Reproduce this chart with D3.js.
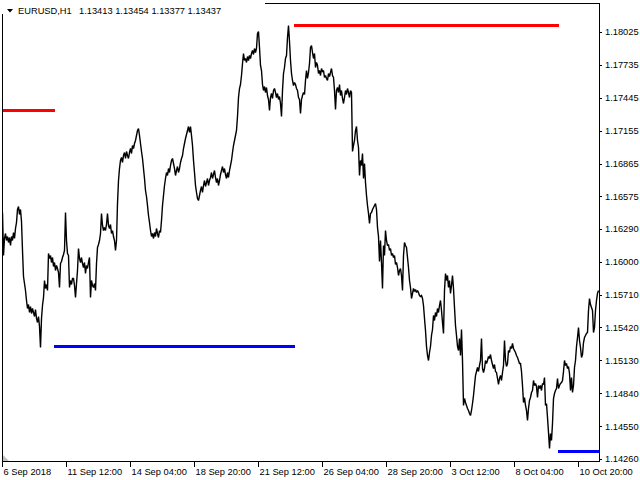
<!DOCTYPE html>
<html><head><meta charset="utf-8">
<script src="https://cdn.jsdelivr.net/npm/d3@7"></script>
<style>html,body{margin:0;padding:0;background:#fff;} svg{display:block;}</style>
</head><body><svg id="c" width="640" height="480"></svg>
<script>
const symbolTitle = "EURUSD,H1";
const ohlcText = "1.13413 1.13454 1.13377 1.13437";
const closes = [
1.1644,1.1606,1.1621,1.1625,1.1619,1.1623,1.1617,1.1622,1.1615,1.1623,
1.1619,1.1626,1.1621,1.1630,1.1635,1.1646,1.1649,1.1642,1.1646,1.1636,
1.1610,1.1587,1.1581,1.1575,1.1566,1.1559,1.1563,1.1556,1.1561,1.1555,
1.1559,1.1556,1.1552,1.1558,1.1550,1.1547,1.1552,1.1543,1.1525,1.1550,
1.1562,1.1569,1.1584,1.1577,1.1580,1.1575,1.1608,1.1603,1.1606,1.1600,
1.1604,1.1596,1.1600,1.1593,1.1597,1.1594,1.1591,1.1578,1.1599,1.1601,
1.1604,1.1607,1.1610,1.1644,1.1619,1.1608,1.1606,1.1578,1.1584,1.1580,
1.1586,1.1586,1.1579,1.1569,1.1581,1.1593,1.1612,1.1603,1.1600,1.1604,
1.1599,1.1595,1.1600,1.1590,1.1597,1.1594,1.1600,1.1604,1.1569,1.1584,
1.1579,1.1578,1.1581,1.1575,1.1599,1.1613,1.1616,1.1619,1.1625,1.1643,
1.1632,1.1628,1.1631,1.1628,1.1633,1.1643,1.1632,1.1630,1.1633,1.1625,
1.1628,1.1623,1.1619,1.1610,1.1619,1.1652,1.1672,1.1683,1.1690,1.1692,
1.1688,1.1694,1.1697,1.1691,1.1698,1.1694,1.1691,1.1697,1.1700,1.1696,
1.1703,1.1700,1.1705,1.1707,1.1712,1.1716,1.1718,1.1712,1.1705,1.1698,
1.1691,1.1683,1.1674,1.1663,1.1658,1.1650,1.1641,1.1635,1.1628,1.1623,
1.1625,1.1621,1.1626,1.1623,1.1630,1.1625,1.1622,1.1628,1.1626,1.1637,
1.1650,1.1659,1.1668,1.1674,1.1679,1.1676,1.1683,1.1679,1.1685,1.1690,
1.1691,1.1687,1.1683,1.1676,1.1681,1.1684,1.1679,1.1683,1.1688,1.1691,
1.1694,1.1700,1.1705,1.1709,1.1713,1.1716,1.1720,1.1714,1.1720,1.1712,
1.1703,1.1690,1.1679,1.1668,1.1661,1.1656,1.1654,1.1659,1.1663,1.1667,
1.1661,1.1668,1.1672,1.1667,1.1670,1.1674,1.1668,1.1672,1.1675,1.1679,
1.1674,1.1677,1.1681,1.1675,1.1670,1.1674,1.1668,1.1672,1.1677,1.1681,
1.1684,1.1679,1.1683,1.1677,1.1674,1.1679,1.1675,1.1681,1.1685,1.1690,
1.1697,1.1703,1.1707,1.1712,1.1716,1.1728,1.1745,1.1753,1.1757,1.1765,
1.1775,1.1784,1.1778,1.1780,1.1776,1.1781,1.1778,1.1782,1.1780,1.1784,
1.1787,1.1783,1.1788,1.1785,1.1788,1.1802,1.1803,1.1789,1.1773,1.1769,
1.1757,1.1751,1.1755,1.1750,1.1754,1.1747,1.1743,1.1734,1.1745,1.1749,
1.1744,1.1751,1.1753,1.1750,1.1745,1.1749,1.1743,1.1746,1.1740,1.1728,
1.1751,1.1766,1.1772,1.1780,1.1782,1.1798,1.1809,1.1795,1.1778,1.1766,
1.1760,1.1756,1.1758,1.1757,1.1753,1.1751,1.1745,1.1743,1.1731,1.1743,
1.1747,1.1750,1.1748,1.1760,1.1769,1.1762,1.1767,1.1775,1.1789,1.1791,
1.1785,1.1780,1.1784,1.1772,1.1776,1.1773,1.1766,1.1769,1.1765,1.1771,
1.1768,1.1769,1.1763,1.1765,1.1762,1.1760,1.1766,1.1764,1.1767,1.1771,
1.1765,1.1763,1.1751,1.1735,1.1751,1.1754,1.1750,1.1757,1.1747,1.1751,
1.1744,1.1740,1.1745,1.1751,1.1748,1.1753,1.1750,1.1745,1.1751,1.1750,
1.1698,1.1703,1.1707,1.1716,1.1720,1.1707,1.1701,1.1676,1.1690,1.1685,
1.1696,1.1674,1.1687,1.1670,1.1659,1.1650,1.1643,1.1634,1.1643,1.1644,
1.1646,1.1648,1.1650,1.1652,1.1646,1.1631,1.1623,1.1601,1.1619,1.1600,
1.1577,1.1615,1.1606,1.1628,1.1619,1.1615,1.1616,1.1610,1.1612,1.1606,
1.1608,1.1604,1.1606,1.1598,1.1600,1.1595,1.1588,1.1593,1.1594,1.1588,
1.1575,1.1606,1.1617,1.1615,1.1613,1.1604,1.1595,1.1584,1.1578,1.1568,
1.1572,1.1577,1.1574,1.1576,1.1573,1.1575,1.1573,1.1571,1.1570,1.1571,
1.1568,1.1562,1.1550,1.1540,1.1526,1.1518,1.1513,1.1520,1.1526,1.1535,
1.1541,1.1553,1.1549,1.1556,1.1552,1.1559,1.1556,1.1562,1.1566,1.1557,
1.1547,1.1537,1.1575,1.1590,1.1584,1.1588,1.1578,1.1584,1.1572,1.1579,
1.1588,1.1577,1.1560,1.1544,1.1535,1.1526,1.1522,1.1533,1.1518,1.1541,
1.1513,1.1474,1.1480,1.1476,1.1474,1.1471,1.1469,1.1467,1.1465,1.1469,
1.1475,1.1482,1.1491,1.1500,1.1504,1.1507,1.1504,1.1509,1.1513,1.1533,
1.1506,1.1503,1.1506,1.1513,1.1511,1.1513,1.1517,1.1515,1.1519,1.1513,
1.1510,1.1506,1.1510,1.1504,1.1503,1.1497,1.1492,1.1497,1.1500,1.1496,
1.1503,1.1509,1.1531,1.1513,1.1508,1.1511,1.1522,1.1520,1.1526,1.1524,
1.1528,1.1524,1.1522,1.1520,1.1518,1.1516,1.1513,1.1511,1.1511,1.1504,
1.1491,1.1476,1.1481,1.1474,1.1469,1.1460,1.1471,1.1478,1.1481,1.1485,
1.1487,1.1496,1.1491,1.1493,1.1490,1.1481,1.1491,1.1489,1.1491,1.1487,
1.1493,1.1492,1.1498,1.1474,1.1475,1.1463,1.1450,1.1436,1.1449,1.1443,
1.1458,1.1480,1.1484,1.1487,1.1489,1.1497,1.1489,1.1491,1.1493,1.1494,
1.1496,1.1504,1.1513,1.1509,1.1511,1.1506,1.1508,1.1502,1.1487,1.1498,
1.1485,1.1491,1.1507,1.1513,1.1526,1.1534,1.1542,1.1531,1.1525,1.1516,
1.1519,1.1529,1.1534,1.1535,1.1537,1.1538,1.1557,1.1568,1.1563,1.1560,
1.1557,1.1538,1.1542,1.1557,1.1566,1.1572,1.1575
];
const priceTicks = [1.18025,1.17735,1.17445,1.17155,1.16865,1.16575,1.16290,1.16000,1.15710,1.15420,1.15130,1.14840,1.14550,1.14260];
const timeLabels = ["6 Sep 2018","11 Sep 12:00","14 Sep 04:00","18 Sep 20:00","21 Sep 12:00","26 Sep 04:00","28 Sep 20:00","3 Oct 12:00","8 Oct 04:00","10 Oct 20:00"];
const timeTickEvery = 64;
const levelPrices = [1.17337, 1.18086, 1.15253, 1.14334];
const levelFrom = [0, 291, 51, 555];
const levelTo = [52, 556, 292, 597];
const levelKind = ["high", "high", "low", "low"];

const svg = d3.select("#c");
const font = "'Liberation Sans', Arial, sans-serif";
const plot = {l: 2, r: 599, t: 3, b: 461};

const x = d3.scaleLinear().domain([0, closes.length - 1]).range([2, 2 + closes.length - 1]);
const y = d3.scaleLinear().domain([priceTicks[priceTicks.length - 1], priceTicks[0]]).range([459, 32]);
const kindColor = d3.scaleOrdinal().domain(["high", "low"]).range(["#ff0000", "#0000ff"]);

svg.append("rect").attr("width", 640).attr("height", 480).attr("fill", "#fff");

svg.append("defs").append("clipPath").attr("id", "clip")
  .append("rect").attr("x", plot.l + 1).attr("y", plot.t + 1)
  .attr("width", plot.r - plot.l - 1).attr("height", plot.b - plot.t - 1);

const g = svg.append("g").attr("clip-path", "url(#clip)");

// level lines
g.selectAll("line.level").data(levelPrices).enter().append("line")
  .attr("class", "level")
  .attr("x1", (d, i) => x(levelFrom[i]) + 0.5)
  .attr("x2", (d, i) => x(levelTo[i]) + 0.5)
  .attr("y1", d => Math.round(y(d)) + 0.5)
  .attr("y2", d => Math.round(y(d)) + 0.5)
  .attr("stroke", (d, i) => kindColor(levelKind[i]))
  .attr("stroke-width", 3)
  .attr("shape-rendering", "crispEdges");

// price line
const line = d3.line().x((d, i) => x(i) + 0.5).y(d => Math.round(y(d)) + 0.5);
g.append("path").datum(closes).attr("d", line)
  .attr("fill", "none").attr("stroke", "#000").attr("stroke-width", 1.4)
  .attr("stroke-linejoin", "miter").attr("stroke-miterlimit", 2);

// frame
svg.append("rect").attr("x", plot.l + 0.5).attr("y", plot.t + 0.5)
  .attr("width", plot.r - plot.l).attr("height", plot.b - plot.t)
  .attr("fill", "none").attr("stroke", "#000").attr("stroke-width", 1)
  .attr("shape-rendering", "crispEdges");

// gray corner triangle
svg.append("path").attr("d", `M${plot.l + 1},${plot.b - 6}L${plot.l + 1},${plot.b}L${plot.l + 7},${plot.b}Z`)
  .attr("fill", "#c0c0c0");

// header
svg.append("rect").attr("x", 0).attr("y", 0).attr("width", 265).attr("height", 14).attr("fill", "#fff");
svg.append("path").attr("d", "M7,9L13,9L10,12.5Z").attr("fill", "#000");
svg.append("text").attr("x", 18).attr("y", 14).attr("font-family", font).attr("font-size", 9.3)
  .attr("fill", "#000").text(symbolTitle);
svg.append("text").attr("x", 79).attr("y", 14).attr("font-family", font).attr("font-size", 9.3)
  .attr("fill", "#000").text(ohlcText);

// price axis
const ay = svg.append("g").attr("transform", `translate(${plot.r},0)`)
  .call(d3.axisRight(y).tickValues(priceTicks).tickSize(3).tickPadding(3).tickFormat(d3.format(".5f")));
ay.select(".domain").remove();
ay.selectAll("line").attr("stroke", "#000").attr("shape-rendering", "crispEdges");
ay.selectAll("text").attr("font-family", font).attr("font-size", 9.3).attr("fill", "#000");

// time axis
const tickIdx = timeLabels.map((d, i) => i * timeTickEvery);
const ax = svg.append("g").attr("transform", `translate(0,${plot.b})`)
  .call(d3.axisBottom(x).tickValues(tickIdx).tickSize(6).tickPadding(1)
    .tickFormat((d, i) => timeLabels[i]));
ax.select(".domain").remove();
ax.selectAll("line").attr("stroke", "#000").attr("shape-rendering", "crispEdges");
ax.selectAll("text").attr("font-family", font).attr("font-size", 9.3).attr("fill", "#000")
  .attr("text-anchor", "start").attr("x", 1);
</script>
</body></html>
